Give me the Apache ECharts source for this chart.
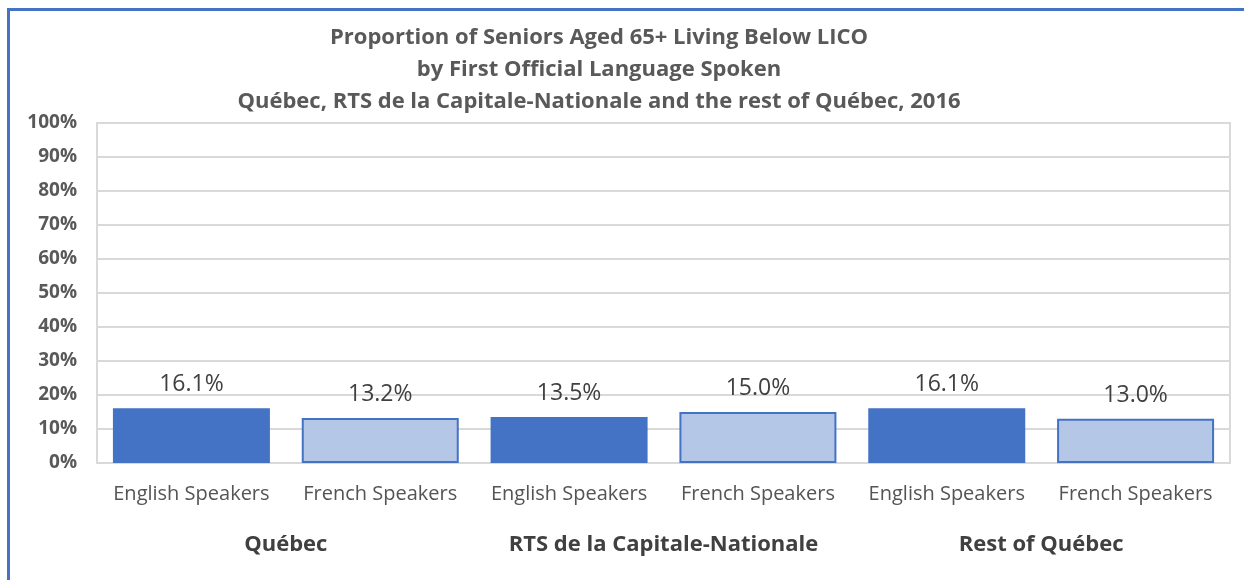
<!DOCTYPE html>
<html>
<head>
<meta charset="utf-8">
<script src="https://cdn.jsdelivr.net/npm/echarts@6/dist/echarts.min.js"></script>
<style>
    body { margin: 0; background: #fff; }
    #frame { position: absolute; left: 7px; top: 8px; width: 1300px; height: 600px;
             border-top: 3px solid #4472C4; border-left: 3px solid #4472C4; }
    #chart { position: absolute; left: 0; top: 0; width: 1244px; height: 580px; }
</style>
</head>
<body>
<div id="frame"></div>
<div id="chart"></div>
<script>
// 数据
const categories = ['English Speakers', 'French Speakers', 'English Speakers', 'French Speakers', 'English Speakers', 'French Speakers'];
const groups = ['Québec', 'RTS de la Capitale-Nationale', 'Rest of Québec'];
const values = [16.1, 13.2, 13.5, 15.0, 16.1, 13.0];
const yTicks = [0, 10, 20, 30, 40, 50, 60, 70, 80, 90, 100];

const englishColor = '#4472C4';
const frenchColor = '#B4C7E7';

const chart = echarts.init(document.getElementById('chart'));

const option = {
    animation: false,
    title: {
        text: 'Proportion of Seniors Aged 65+ Living Below LICO\nby First Official Language Spoken\nQuébec, RTS de la Capitale-Nationale and the rest of Québec, 2016',
        left: 594,
        top: 17,
        textAlign: 'center',
        textStyle: {
            fontFamily: 'Open Sans',
            fontSize: 22,
            fontWeight: 'bold',
            color: '#595959',
            lineHeight: 32
        }
    },
    grid: {
        left: 97,
        right: 14,
        top: 123,
        bottom: 117,
        show: true,
        borderColor: '#d9d9d9',
        borderWidth: 2
    },
    xAxis: [{
        type: 'category',
        data: categories,
        axisLine: { show: false },
        axisTick: { show: false },
        axisLabel: {
            interval: 0,
            margin: 21,
            fontFamily: 'Open Sans',
            fontSize: 20,
            color: '#545454'
        }
    }, {
        type: 'category',
        data: groups,
        position: 'bottom',
        offset: 50,
        axisLine: { show: false },
        axisTick: { show: false },
        axisLabel: {
            interval: 0,
            margin: 21,
            fontFamily: 'Open Sans',
            fontSize: 22,
            fontWeight: 'bold',
            color: '#404040'
        }
    }],
    yAxis: {
        type: 'value',
        min: yTicks[0],
        max: yTicks[yTicks.length - 1],
        interval: 10,
        axisLine: { show: false },
        axisTick: { show: false },
        splitLine: { lineStyle: { color: '#d9d9d9', width: 2 } },
        axisLabel: {
            formatter: '{value}%',
            margin: 20,
            fontFamily: 'Open Sans',
            fontSize: 19,
            fontWeight: 'bold',
            color: '#595959'
        }
    },
    series: [{
        type: 'bar',
        xAxisIndex: 0,
        barWidth: 157,
        data: values.map((v, i) => ({
            value: v,
            itemStyle: i % 2 === 0
                ? { color: englishColor }
                : { color: frenchColor, borderColor: englishColor, borderWidth: 2 }
        })),
        label: {
            show: true,
            position: 'top',
            distance: 12,
            formatter: p => p.value.toFixed(1) + '%',
            fontFamily: 'Open Sans',
            fontSize: 23,
            color: '#404040'
        }
    }]
};

chart.setOption(option);
</script>
</body>
</html>
